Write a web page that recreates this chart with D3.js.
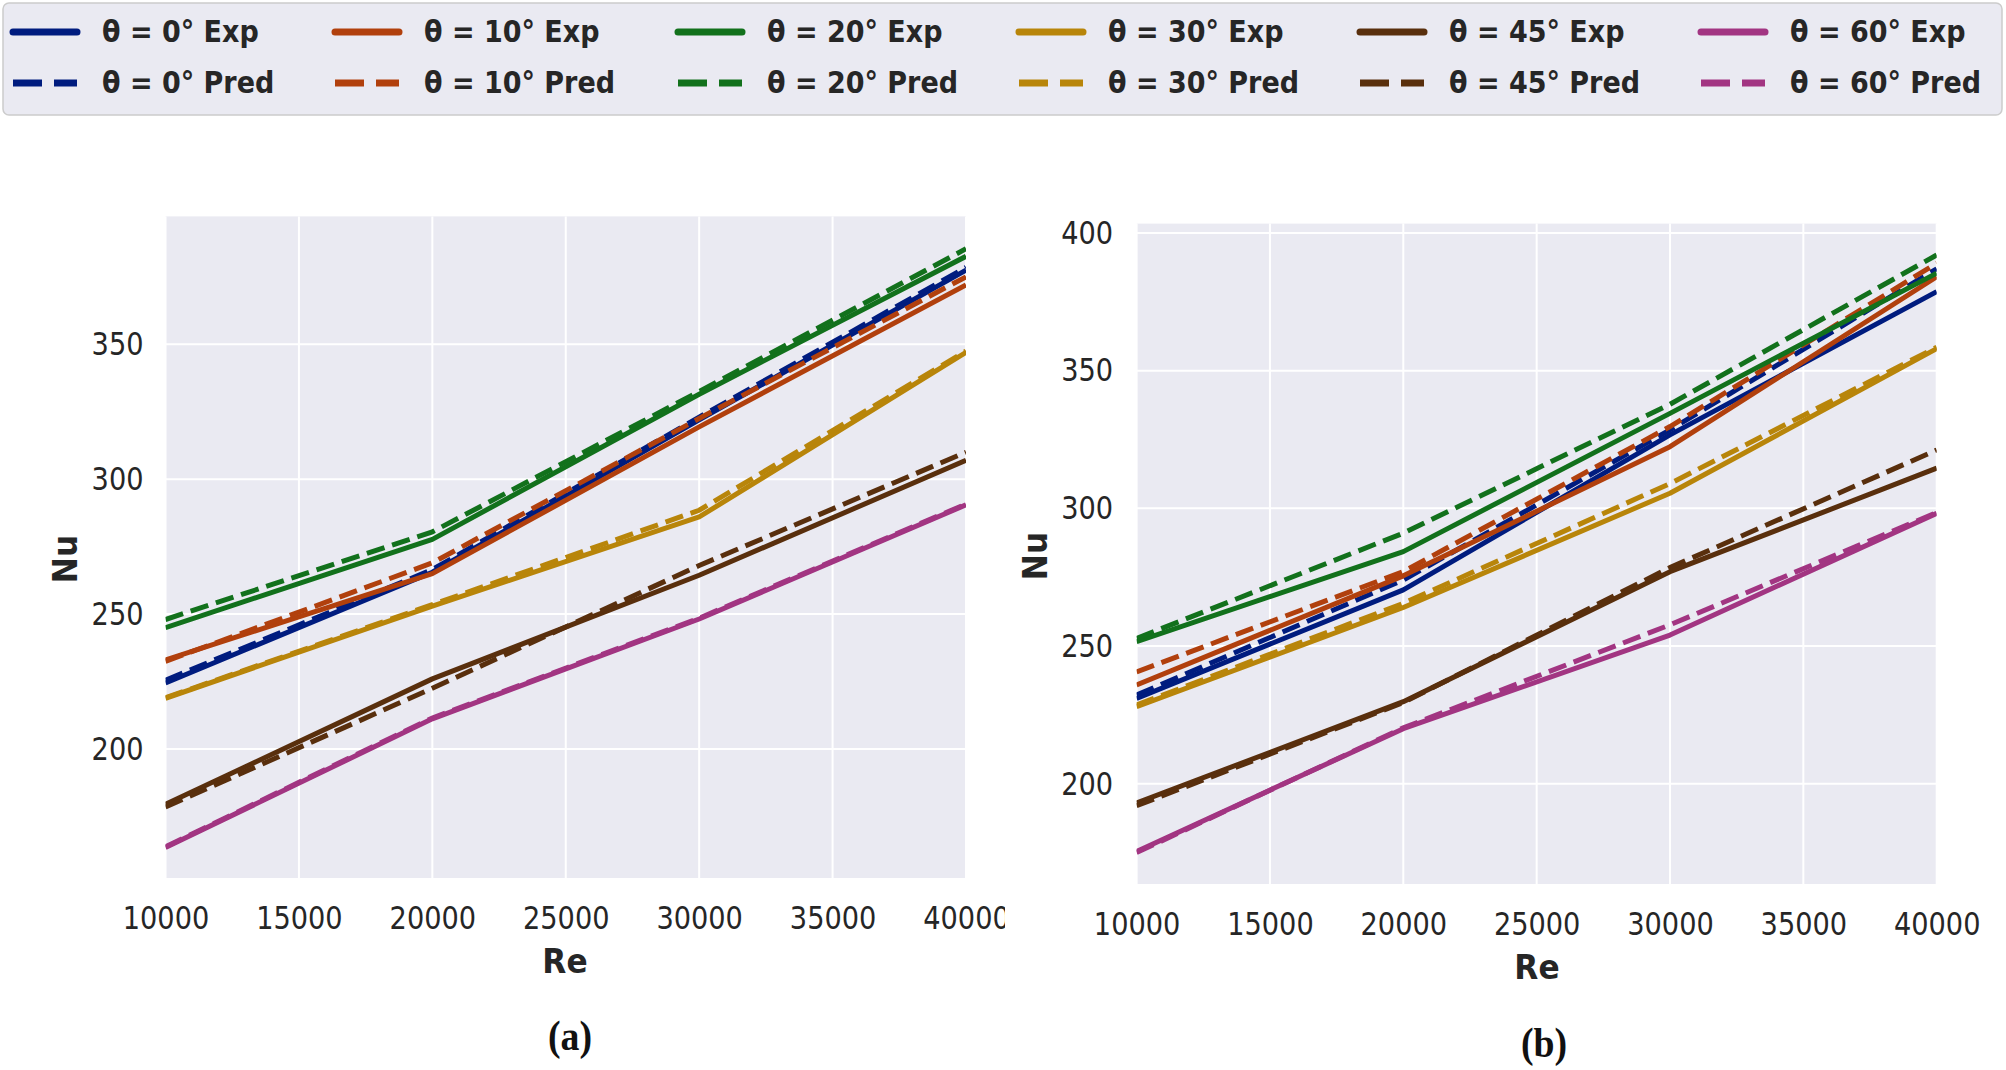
<!DOCTYPE html>
<html>
<head>
<meta charset="utf-8">
<script src="https://cdn.jsdelivr.net/npm/d3@7"></script>
<style>
  html, body { margin: 0; padding: 0; background: #ffffff; }
  svg { display: block; }
</style>
</head>
<body>
<svg id="chart" width="2006" height="1070"></svg>
<script>
// ---------------- data ----------------
const reValues = [10000, 20000, 30000, 40000];
const xTicks = [10000, 15000, 20000, 25000, 30000, 35000, 40000];
const yTicksA = [200, 250, 300, 350];
const yTicksB = [200, 250, 300, 350, 400];
const angleLabels = ["0°", "10°", "20°", "30°", "45°", "60°"];

// Panel (a)
const expA0  = [224.5, 265.5, 322.0, 377.5];
const predA0 = [225.5, 266.5, 323.0, 378.5];
const expA10  = [233.0, 265.0, 319.4, 372.0];
const predA10 = [232.5, 269.0, 322.5, 375.0];
const expA20  = [245.0, 277.7, 331.5, 382.6];
const predA20 = [248.0, 280.5, 332.5, 385.4];
const expA30  = [218.8, 253.0, 286.0, 347.0];
const predA30 = [219.0, 253.5, 288.5, 347.5];
const expA45  = [179.5, 226.0, 264.4, 307.0];
const predA45 = [178.5, 222.5, 268.0, 310.0];
const expA60  = [163.5, 211.2, 248.2, 290.5];
const predA60 = [163.8, 211.5, 248.5, 290.8];

// Panel (b)
const expB0  = [231.0, 270.4, 326.7, 378.7];
const predB0 = [232.2, 274.0, 328.5, 387.0];
const expB10  = [235.9, 275.5, 322.4, 384.1];
const predB10 = [240.6, 277.0, 329.7, 389.0];
const expB20  = [251.6, 284.3, 334.5, 385.4];
const predB20 = [252.8, 291.0, 337.8, 392.0];
const expB30  = [228.0, 264.0, 305.5, 358.0];
const predB30 = [228.6, 265.5, 309.0, 358.5];
const expB45  = [193.0, 229.8, 277.0, 314.6];
const predB45 = [192.0, 229.5, 278.5, 321.2];
const expB60  = [175.4, 220.0, 254.0, 298.2];
const predB60 = [175.0, 220.3, 257.7, 298.5];

// ---------------- styles ----------------
const colors = ["#001c7f", "#b1400d", "#12711c", "#b8850a", "#592f0d", "#a23582"];
const FONT = "'DejaVu Sans', sans-serif";
const legendColumnX = [13, 335, 678, 1019, 1360, 1701];

const panelA = {
  exp: [expA0, expA10, expA20, expA30, expA45, expA60],
  pred: [predA0, predA10, predA20, predA30, predA45, predA60],
  yTicks: yTicksA, yDomain: [152.2, 397.4],
  left: 165.5, right: 966, top: 216.4, bottom: 878,
  clipRight: 1005, tickPadX: 28, tickPadY: 22,
  nuX: 66, nuY: 559, reX: 565, reY: 962, tagX: 570, tagY: 1036, tag: "(a)", id: "a"
};
const panelB = {
  exp: [expB0, expB10, expB20, expB30, expB45, expB60],
  pred: [predB0, predB10, predB20, predB30, predB45, predB60],
  yTicks: yTicksB, yDomain: [163.6, 403.4],
  left: 1136.6, right: 1936.7, top: 223.6, bottom: 884,
  clipRight: 2006, tickPadX: 28, tickPadY: 23.5,
  nuX: 1036, nuY: 556, reX: 1537, reY: 968, tagX: 1544, tagY: 1043, tag: "(b)", id: "b"
};

const svg = d3.select("#chart");
const defs = svg.append("defs");

function drawPanel(p) {
  const x = d3.scaleLinear().domain([10000, 40000]).range([p.left, p.right]);
  const y = d3.scaleLinear().domain(p.yDomain).range([p.bottom, p.top]);

  defs.append("clipPath").attr("id", "plot-" + p.id)
    .append("rect").attr("x", p.left).attr("y", p.top)
    .attr("width", p.right - p.left).attr("height", p.bottom - p.top);
  defs.append("clipPath").attr("id", "fig-" + p.id)
    .append("rect").attr("x", 0).attr("y", 0)
    .attr("width", p.clipRight).attr("height", 1070);

  const g = svg.append("g").attr("clip-path", `url(#fig-${p.id})`);

  // background
  g.append("rect").attr("x", p.left).attr("y", p.top)
    .attr("width", p.right - p.left).attr("height", p.bottom - p.top)
    .attr("fill", "#eaeaf2");

  // grid
  g.append("g").selectAll("line").data(xTicks).join("line")
    .attr("x1", d => x(d)).attr("x2", d => x(d))
    .attr("y1", p.top).attr("y2", p.bottom)
    .attr("stroke", "#ffffff").attr("stroke-width", 2);
  g.append("g").selectAll("line").data(p.yTicks).join("line")
    .attr("x1", p.left).attr("x2", p.right)
    .attr("y1", d => y(d)).attr("y2", d => y(d))
    .attr("stroke", "#ffffff").attr("stroke-width", 2);

  // axes
  const xAxis = g.append("g").attr("transform", `translate(0,${p.bottom})`)
    .call(d3.axisBottom(x).tickValues(xTicks).tickFormat(d3.format("d"))
      .tickSize(0).tickPadding(p.tickPadX));
  xAxis.select(".domain").remove();
  xAxis.selectAll("text")
    .attr("font-family", FONT).attr("font-size", 32).attr("fill", "#262626")
    .attr("transform", "scale(0.85,1)");

  const yAxis = g.append("g").attr("transform", `translate(${p.left},0)`)
    .call(d3.axisLeft(y).tickValues(p.yTicks).tickFormat(d3.format("d"))
      .tickSize(0).tickPadding(0));
  yAxis.select(".domain").remove();
  yAxis.selectAll("text")
    .attr("x", 0)
    .attr("font-family", FONT).attr("font-size", 32).attr("fill", "#262626")
    .attr("transform", `translate(${-p.tickPadY},0) scale(0.85,1)`);

  // lines
  const line = d3.line().x((d, i) => x(reValues[i])).y(d => y(d));
  const lg = g.append("g").attr("clip-path", `url(#plot-${p.id})`);
  p.exp.forEach((series, k) => {
    lg.append("path").datum(series).attr("d", line)
      .attr("fill", "none").attr("stroke", colors[k]).attr("stroke-width", 5)
      .attr("stroke-linejoin", "round");
    lg.append("path").datum(p.pred[k]).attr("d", line)
      .attr("fill", "none").attr("stroke", colors[k]).attr("stroke-width", 5)
      .attr("stroke-dasharray", "18.5,8");
  });

  // axis labels
  g.append("text").attr("transform", `translate(${p.reX},${p.reY}) scale(0.92,1)`)
    .attr("text-anchor", "middle").attr("dominant-baseline", "central")
    .attr("font-family", FONT).attr("font-weight", "bold").attr("font-size", 34)
    .attr("fill", "#262626").text("Re");
  g.append("text").attr("transform", `translate(${p.nuX},${p.nuY}) rotate(-90) scale(0.92,1)`)
    .attr("text-anchor", "middle").attr("dominant-baseline", "central")
    .attr("font-family", FONT).attr("font-weight", "bold").attr("font-size", 34)
    .attr("fill", "#262626").text("Nu");
  svg.append("text").attr("transform", `translate(${p.tagX},${p.tagY}) scale(0.9,1)`)
    .attr("text-anchor", "middle").attr("dominant-baseline", "central")
    .attr("font-family", "'Liberation Serif', serif").attr("font-weight", "bold")
    .attr("font-size", 42).attr("fill", "#111111").text(p.tag);
}

drawPanel(panelA);
drawPanel(panelB);

// ---------------- legend ----------------
const legend = svg.append("g");
legend.append("rect").attr("x", 3).attr("y", 3).attr("width", 1999).attr("height", 112)
  .attr("rx", 6).attr("fill", "#eaeaf2").attr("stroke", "#cccccc").attr("stroke-width", 1.5);

const rowY = [32, 83];
angleLabels.forEach((a, k) => {
  const x0 = legendColumnX[k];
  [0, 1].forEach(r => {
    legend.append("line").attr("x1", x0).attr("x2", x0 + 64)
      .attr("y1", rowY[r]).attr("y2", rowY[r])
      .attr("stroke", colors[k]).attr("stroke-width", 7)
      .attr("stroke-linecap", r === 0 ? "round" : "butt")
      .attr("stroke-dasharray", r === 0 ? null : "29,12");
    legend.append("text").attr("transform", `translate(${x0 + 89},${rowY[r]}) scale(0.9,1)`)
      .attr("dominant-baseline", "central")
      .attr("font-family", FONT).attr("font-weight", "bold").attr("font-size", 30)
      .attr("fill", "#262626")
      .text(`θ = ${a} ${r === 0 ? "Exp" : "Pred"}`);
  });
});
</script>
</body>
</html>
